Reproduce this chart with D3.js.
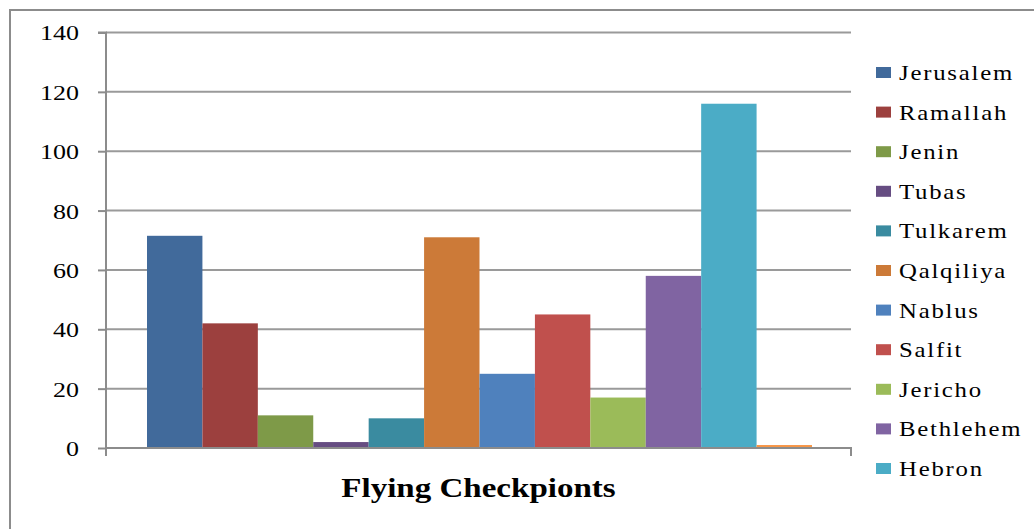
<!DOCTYPE html>
<html>
<head>
<meta charset="utf-8">
<script src="https://cdn.jsdelivr.net/npm/d3@7"></script>
<style>
  body { margin: 0; background: #fff; }
  svg text { font-family: "Liberation Serif", "Times New Roman", serif; fill: #000; }
</style>
</head>
<body>
<div id="chart"></div>
<script>
// districts (the last bar has no visible legend entry in the source)
const districts = ['Jerusalem', 'Ramallah', 'Jenin', 'Tubas', 'Tulkarem', 'Qalqiliya',
  'Nablus', 'Salfit', 'Jericho', 'Bethlehem', 'Hebron', 'Other'];
const checkpoints = [71.5, 42, 11, 2, 10, 71, 25, 45, 17, 58, 116, 1];
const colors = ['#416A9B', '#9C403E', '#7E9A48', '#664D82', '#3A8BA0', '#CC7A38',
  '#4F81BD', '#C0504D', '#9BBB59', '#8064A2', '#4BACC6', '#F79646'];
const yTicks = [0, 20, 40, 60, 80, 100, 120, 140];
const legendShown = 11; // legend is clipped after Hebron
const categoryLabel = 'Flying Checkpionts';

const width = 1034, height = 529;
const sx = 1.18; // text in the source is stretched horizontally

const svg = d3.select('#chart').append('svg')
  .attr('width', width).attr('height', height);

// chart frame (right and bottom edges run off the picture)
svg.append('path')
  .attr('d', `M${width},10 H10 V${height}`)
  .attr('fill', 'none').attr('stroke', '#8c8c8c').attr('stroke-width', 2);

const plot = { left: 106, right: 851, top: 32.5, bottom: 448 };

const y = d3.scaleLinear().domain([0, 140]).range([plot.bottom, plot.top]);
const x = d3.scaleBand().domain(districts)
  .range([plot.left + 41, plot.right - 39]).paddingInner(0);

function stretchedText(g, xPos, yPos, str) {
  return g.append('text')
    .attr('transform', `scale(${sx},1)`)
    .attr('x', xPos / sx).attr('y', yPos)
    .text(str);
}

// gridlines
svg.append('g').selectAll('line')
  .data(yTicks.filter(d => d > 0))
  .join('line')
  .attr('x1', plot.left).attr('x2', plot.right)
  .attr('y1', d => y(d)).attr('y2', d => y(d))
  .attr('stroke', '#9a9a9a').attr('stroke-width', 2);

// bars
svg.append('g').selectAll('rect')
  .data(checkpoints)
  .join('rect')
  .attr('x', (d, i) => x(districts[i]))
  .attr('width', x.bandwidth())
  .attr('y', d => y(d))
  .attr('height', d => y(0) - y(d))
  .attr('fill', (d, i) => colors[i]);

// y axis
const yAxis = svg.append('g').attr('transform', `translate(${plot.left},0)`)
  .call(d3.axisLeft(y).tickValues(yTicks).tickSize(8).tickFormat(''));
yAxis.select('.domain').attr('stroke', '#8c8c8c').attr('stroke-width', 2)
  .attr('d', `M-8,${plot.top}H0V${plot.bottom + 8}`);
yAxis.selectAll('.tick line').attr('stroke', '#8c8c8c').attr('stroke-width', 2);

const tickLabels = svg.append('g').attr('font-size', 22).attr('text-anchor', 'end');
yTicks.forEach(t => stretchedText(tickLabels, 79, y(t) + 8, t));

// x axis
const xAxis = svg.append('g').attr('transform', `translate(0,${plot.bottom})`);
xAxis.append('path')
  .attr('d', `M${plot.left},0H${plot.right}V8`)
  .attr('fill', 'none').attr('stroke', '#8c8c8c').attr('stroke-width', 2);

const title = svg.append('g').attr('font-size', 28).attr('font-weight', 'bold')
  .attr('text-anchor', 'middle');
stretchedText(title, (plot.left + plot.right) / 2, 497, categoryLabel);

// legend
const legend = svg.append('g').attr('font-size', 21).attr('letter-spacing', 1.5);
districts.slice(0, legendShown).forEach((name, i) => {
  const ly = 80 + i * 39.6;
  legend.append('rect')
    .attr('x', 876).attr('y', ly - 13).attr('width', 15).attr('height', 11)
    .attr('fill', colors[i]);
  stretchedText(legend, 899, ly, name);
});
</script>
</body>
</html>
